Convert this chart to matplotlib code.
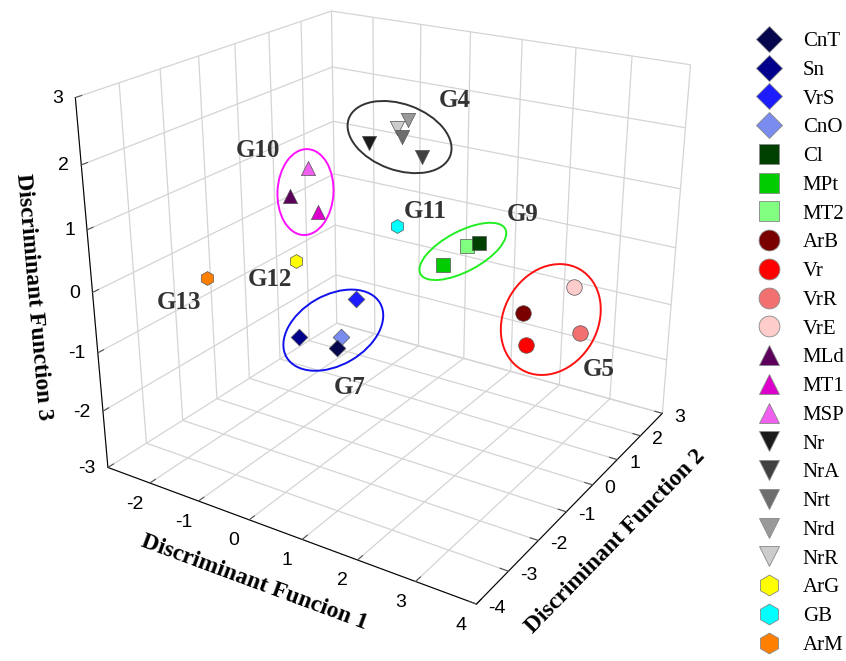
import numpy as np
import matplotlib
matplotlib.use("Agg")
import matplotlib.pyplot as plt
from matplotlib.lines import Line2D
from matplotlib.patches import Ellipse
from mpl_toolkits.mplot3d import proj3d

W, H = 846, 661
plt.rcParams['axes.unicode_minus'] = False

# sample codes, in legend order
names = ['CnT', 'Sn', 'VrS', 'CnO', 'Cl', 'MPt', 'MT2', 'ArB', 'Vr', 'VrR', 'VrE',
         'MLd', 'MT1', 'MSP', 'Nr', 'NrA', 'Nrt', 'Nrd', 'NrR', 'ArG', 'GB', 'ArM']
# discriminant function scores
df1 = [0.04, -0.52, 0.13, 0.05, 1.60, 1.19, 1.45, 2.44, 2.58, 3.28, 3.04,
       -1.11, -0.68, -0.96, -0.22, 0.54, 0.20, 0.23, 0.11, -0.81, 0.44, -1.96]
df2 = [-1.47, -1.76, -1.02, -1.37, 0.42, -0.03, 0.30, 0.43, 0.28, 0.84, 1.05,
       -1.05, -0.88, -0.72, -0.02, 0.38, 0.31, 0.46, 0.32, -1.36, -0.23, -2.27]
df3 = [-1.12, -0.96, -0.42, -0.96, 0.37, 0.06, 0.33, -0.62, -1.08, -0.90, -0.25,
       1.04, 0.81, 1.44, 1.79, 1.59, 1.88, 2.12, 2.01, 0.12, 0.61, -0.12]

xticks = list(range(-2, 5))
yticks = list(range(-4, 4))
zticks = list(range(-3, 4))

# groups
groups = {'G7': ['CnT', 'Sn', 'VrS', 'CnO'],
          'G9': ['Cl', 'MPt', 'MT2'],
          'G5': ['ArB', 'Vr', 'VrR', 'VrE'],
          'G10': ['MLd', 'MT1', 'MSP'],
          'G4': ['Nr', 'NrA', 'Nrt', 'Nrd', 'NrR'],
          'G12': ['ArG'],
          'G11': ['GB'],
          'G13': ['ArM']}

colors = ['#06064f', '#00008c', '#1c1cff', '#7a8cf0', '#004000', '#00cc00', '#80ff80',
          '#7a0000', '#ff0000', '#f27070', '#ffcccc', '#5c005c', '#dd00cc', '#f060ee',
          '#1a1a1a', '#404040', '#6e6e6e', '#999999', '#cccccc', '#ffff00', '#00ffff',
          '#ff8000']
markers = ['D'] * 4 + ['s'] * 3 + ['o'] * 4 + ['^'] * 3 + ['v'] * 5 + ['h'] * 3
msize = {'D': 72, 's': 88, 'o': 125, '^': 105, 'v': 105, 'h': 100}

# ellipse look: width, height, angle, colour ; label offset in px
ell_style = {'G7': (108, 70, 30, '#1010ee'), 'G9': (96, 40, 28, '#22ee22'),
             'G5': (116, 94, 60, '#ff1010'), 'G10': (56, 86, -3, '#ff10ff'),
             'G4': (108, 66, -20, '#333333')}
lab_off = {'G7': (16, -57), 'G9': (60, 37), 'G5': (48, -50), 'G10': (-48, 42),
           'G4': (55, 37), 'G11': (28, 15), 'G12': (-26, -19), 'G13': (-28, -25)}

fig = plt.figure(figsize=(W / 100, H / 100), dpi=100)
ax = fig.add_axes([-0.005, 0.038, 0.92, 1.08], projection='3d')
ax.set_proj_type('persp', focal_length=0.38)
ax.set_xlim(-2.9, 4)
ax.set_ylim(-4, 3)
ax.set_zlim(-3, 3)
ax.set_xticks(xticks)
ax.set_yticks(yticks)
ax.set_zticks(zticks)
ax.set_xticklabels([])
ax.set_yticklabels([])
ax.set_zticklabels([])
ax.view_init(elev=23, azim=-57.5)
ax.set_box_aspect((1.05, 1.0, 0.95), zoom=0.965)
for a in (ax.xaxis, ax.yaxis, ax.zaxis):
    a.set_pane_color((1, 1, 1, 0))
    a.pane.set_edgecolor('#666666')
    a._axinfo['grid']['color'] = '#d4d4d4'
    a._axinfo['grid']['linewidth'] = 0.9
    a._axinfo['axisline']['color'] = '#555555'
    a._axinfo['tick']['inward_factor'] = 0.0
    a._axinfo['tick']['outward_factor'] = 0.25
    a.set_tick_params(colors='#555555')
ax.zaxis.set_ticks_position('lower')
ax.zaxis.set_label_position('lower')

lab = dict(fontsize=17, fontweight='bold', family='Liberation Serif')
ax.set_xlabel('Discriminant Funcion 1', **lab)
ax.set_ylabel('Discriminant Function 2', **lab)
ax.set_zlabel('Discriminant Function 3', **lab)

# points, last legend entries first so overlaps match
ax.computed_zorder = False
for i in reversed(range(len(names))):
    ax.scatter([df1[i]], [df2[i]], [df3[i]], marker=markers[i], s=msize[markers[i]],
               c=colors[i], edgecolors='#555555', linewidths=0.5, depthshade=False)

handles = [Line2D([], [], ls='none', marker=m, color=c, mec='#888888', mew=0.6,
                  ms=15 if m != 'D' else 13)
           for m, c in zip(markers, colors)]
fig.legend(handles, names, loc='upper left', bbox_to_anchor=(0.875, 0.965),
           frameon=False, prop={'family': 'Liberation Serif', 'size': 15},
           labelspacing=0.44, handletextpad=0.6, borderaxespad=0)

fig.canvas.draw()

M = ax.get_proj()
ov = fig.add_axes([0, 0, 1, 1])
ov.set_xlim(0, W)
ov.set_ylim(0, H)
ov.axis('off')
ov.patch.set_alpha(0)


def to_screen(xs, ys, zs):
    px, py, _ = proj3d.proj_transform(np.atleast_1d(xs), np.atleast_1d(ys),
                                      np.atleast_1d(zs), M)
    return ax.transData.transform(np.column_stack([px, py]))


# tick labels placed next to the projected tick positions
tick_font = dict(fontsize=14, family='Liberation Sans', va='center')
xmin, xmax = ax.get_xlim()
ymin, ymax = ax.get_ylim()
zmin, zmax = ax.get_zlim()
for t in xticks:
    u, v = to_screen(t, ymin, zmin)[0]
    ov.text(u - 15, v - 21, str(t), ha='center', **tick_font)
for t in yticks:
    u, v = to_screen(xmax, t, zmin)[0]
    ov.text(u + 12, v - 4, str(t), ha='left', **tick_font)
for t in zticks:
    u, v = to_screen(xmin, ymin, t)[0]
    ov.text(u - 12, v - 1, str(t), ha='right', **tick_font)

# group outlines drawn in screen space around the projected points
for g, members in groups.items():
    idx = [names.index(n) for n in members]
    disp = to_screen(np.array(df1)[idx], np.array(df2)[idx], np.array(df3)[idx])
    cx, cy = disp.mean(axis=0)
    if g in ell_style:
        w, h, ang, col = ell_style[g]
        ov.add_patch(Ellipse((cx, cy), w, h, angle=ang, fill=False, ec=col, lw=1.4))
    dx, dy = lab_off[g]
    ov.text(cx + dx, cy + dy, g, ha='center', va='center', fontsize=18,
            fontweight='bold', family='Liberation Serif', color='#333333')

fig.savefig('out.png', dpi=100)
